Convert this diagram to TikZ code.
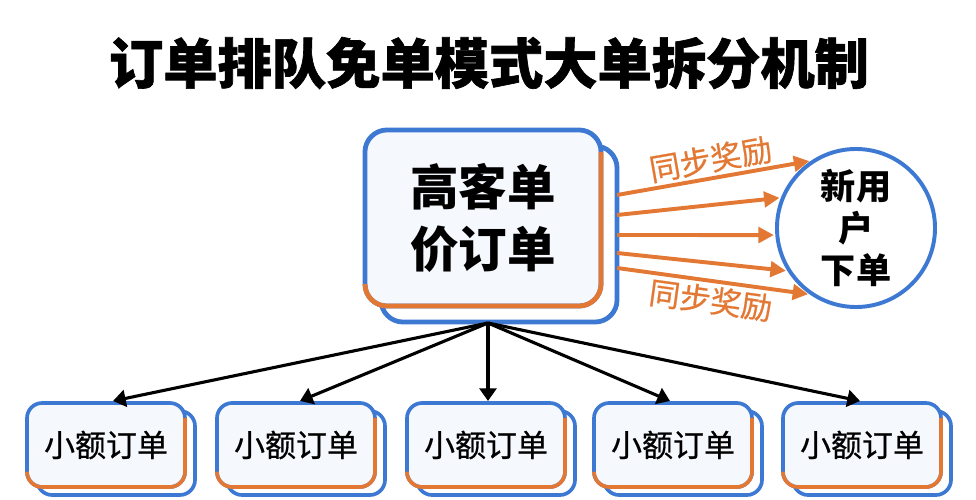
\documentclass[tikz,border=0pt]{standalone}
\usepackage{fontspec}
\newfontfamily\cjk{Noto Sans CJK SC}
\newfontfamily\cjkmed[FakeBold=0.6]{Noto Sans CJK SC}
\newfontfamily\cjkheavy[BoldFeatures={FakeBold=1.2}]{Noto Sans CJK SC}
\usetikzlibrary{arrows.meta,calc}
\definecolor{bluec}{HTML}{3D79D2}
\definecolor{orng}{HTML}{E27833}
\definecolor{paper}{HTML}{F5F8FD}

\begin{document}
\begin{tikzpicture}[
		x=0.025cm, y=-0.025cm,
		ttl/.style    = {font=\cjkheavy\bfseries\fontsize{38.6pt}{44pt}\selectfont},
		bigbox/.style = {draw=bluec, fill=paper, line width=3.4pt, rounded corners=0.55cm,
			minimum width=5.9cm, minimum height=4.4cm, outer sep=0pt, inner sep=0pt, align=center,
			font=\cjk\bfseries\fontsize{34.5pt}{44pt}\selectfont},
		bigback/.style = {draw=bluec, fill=white, line width=3.4pt, rounded corners=0.55cm,
			minimum width=5.9cm, minimum height=4.4cm, outer sep=0pt},
		bigedge/.style = {draw=orng, line width=3.4pt, rounded corners=0.55cm},
		usr/.style    = {circle, draw=bluec, fill=white, line width=2.8pt, minimum size=3.95cm,
			inner sep=0pt, align=center, font=\cjk\bfseries\fontsize{25pt}{30pt}\selectfont},
		smbox/.style  = {draw=bluec, fill=paper, line width=2.6pt, rounded corners=0.38cm,
			minimum width=3.95cm, minimum height=2.1cm, outer sep=0pt, inner sep=0pt,
			font=\cjkmed\fontsize{22pt}{26pt}\selectfont},
		smback/.style = {draw=bluec, fill=white, line width=2.6pt, rounded corners=0.38cm,
			minimum width=3.95cm, minimum height=2.1cm, outer sep=0pt},
		smedge/.style = {draw=orng, line width=2.6pt, rounded corners=0.38cm},
		sync/.style   = {draw=orng, line width=2.8pt, -{Triangle[length=11pt,width=11pt]}, shorten >=1pt},
		fan/.style    = {draw=black, line width=2.2pt, -{Triangle[length=9pt,width=12pt]}},
		lbl/.style    = {text=orng, inner sep=2pt, font=\cjkmed\fontsize{22pt}{26pt}\selectfont}
		]
		\useasboundingbox (0,0) rectangle (976,500);
		
		\node[ttl] (title) at (489,63) {订单排队免单模式大单拆分机制};
		
		% Big order, two-layer box
		\node[bigback] (hiback) at (499,234) {};
		\node[bigbox] (hi) at (483,218) {高客单\\价订单};
		\draw[bigedge] ($(hi.north east)+(0,22)$) -- (hi.south east) -- (hi.south west) -- ($(hi.south west)+(0,-22)$);
		
		% New user
		\node[usr] (usr) at (856,228) {新用\\户\\下单};
		
		\draw[sync] ($(hiback.east)+(0,-39)$) -- (usr.124) node[lbl, midway, sloped, above] {同步奖励};
		\draw[sync] ($(hiback.east)+(0,-19)$) -- (usr.158);
		\draw[sync] ($(hiback.east)+(0,1)$) -- (usr.185);
		\draw[sync] ($(hiback.east)+(0,19)$) -- (usr.212);
		\draw[sync] ($(hiback.east)+(0,34)$) -- (usr.235) node[lbl, midway, sloped, below] {同步奖励};
		
		% Small orders
		\node[smback] (s1back) at (116,453) {};
		\node[smback] (s2back) at (306,453) {};
		\node[smback] (s3back) at (496,453) {};
		\node[smback] (s4back) at (683,453) {};
		\node[smback] (s5back) at (872,453) {};
		\node[smbox] (s1) at (106,445) {小额订单};
		\node[smbox] (s2) at (296,445) {小额订单};
		\node[smbox] (s3) at (486,445) {小额订单};
		\node[smbox] (s4) at (673,445) {小额订单};
		\node[smbox] (s5) at (862,445) {小额订单};
		\draw[smedge] ($(s1.north east)+(0,15)$) -- (s1.south east) -- (s1.south west) -- ($(s1.south west)+(0,-15)$);
		\draw[smedge] ($(s2.north east)+(0,15)$) -- (s2.south east) -- (s2.south west) -- ($(s2.south west)+(0,-15)$);
		\draw[smedge] ($(s3.north east)+(0,15)$) -- (s3.south east) -- (s3.south west) -- ($(s3.south west)+(0,-15)$);
		\draw[smedge] ($(s4.north east)+(0,15)$) -- (s4.south east) -- (s4.south west) -- ($(s4.south west)+(0,-15)$);
		\draw[smedge] ($(s5.north east)+(0,15)$) -- (s5.south east) -- (s5.south west) -- ($(s5.south west)+(0,-15)$);
		
		\coordinate (split) at (488,323);
		\draw[fan] (split) -- ($(s1.north)+(7,-2)$);
		\draw[fan] (split) -- ($(s2.north)+(4,-2)$);
		\draw[fan] (split) -- ($(s3.north)+(2,-2)$);
		\draw[fan] (split) -- ($(s4.north)+(-3,-2)$);
		\draw[fan] (split) -- ($(s5.north)+(-2,-2)$);
	\end{tikzpicture}
\end{document}
